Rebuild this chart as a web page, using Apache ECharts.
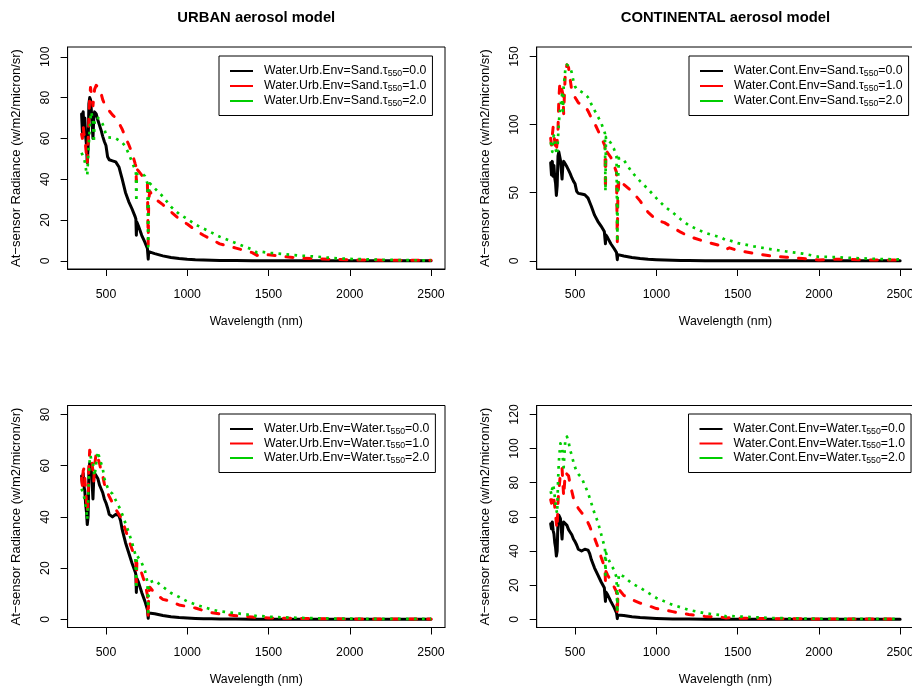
<!DOCTYPE html>
<html><head><meta charset="utf-8">
<script src="https://cdn.jsdelivr.net/npm/echarts@6/dist/echarts.min.js"></script>
<style>html,body{margin:0;padding:0;background:#fff}#c{width:912px;height:686px}</style>
</head><body><div id="c"></div><script>
// ---------- data ----------
const wavelengthNm = [350,355,360,365,370,375,380,385,390,395,
 400,405,410,420,425,430,440,450,460,470,
 480,490,500,510,520,540,560,580,590,600,
 620,640,660,680,684,687,690,700,720,740,
 755,760,763,770,800,850,900,950,1000,1050,
 1100,1150,1200,1300,1400,1430,1450,1500,1600,1700,
 1800,1900,2000,2100,2200,2300,2400,2500];

// tau550 = 0.0, environment Sand (identical for URBAN and CONTINENTAL)
const envSandTau0 = [72,63,73,62,70,61,57,48,55,77,
 80,79,74,60,70,73,72,69,66.5,64,
 61,58.5,56.5,51,49.5,49,48.5,46,43,40,
 33.5,29,25.5,21.5,20.5,12.5,19,17,12.5,9,
 6,0.8,4.5,4.6,3.5,2.4,1.6,1.1,0.75,0.5,
 0.35,0.25,0.18,0.1,0.06,0.02,0.04,0.05,0.04,0.04,
 0.03,0.02,0.02,0.02,0.02,0.02,0.02,0.01];
const urbSandTau1 = [62,60,66,62,60,56,52,48,58,70,
 80,85,85,76,80,84,86,86,84.5,82,
 79,77,76,74.5,73.5,71.5,70,67.5,66,64.5,
 60.5,57,53,47.5,46.5,39,45,44,42,40,
 38.5,8,30,34,30.5,27.5,24,20.5,18,15,
 12.5,10.5,8.3,6.2,4,2.6,3.3,2.9,2.0,1.3,
 1.0,0.7,0.4,0.35,0.3,0.25,0.2,0.2];
const urbSandTau2 = [53,52,51.5,50,48.5,46,43,42,50,58,
 65,70,73,68,58,68,70.5,70,69.5,68,
 67,64.5,62,60.5,60,60.3,60,59,58.8,58,
 56,52.5,48.5,44.5,43.5,29,42.5,43,43,41.5,
 38,7,33,38,35.5,31.5,26.5,23,20.5,17.8,
 15.8,13.8,11.8,8.6,5.5,4.0,4.5,3.9,3.2,2.5,
 2.0,1.3,0.9,0.7,0.5,0.35,0.25,0.2];
const contSandTau1 = [90,85,92,98,92,88,84,80,79,96,
 118,128,131,125,122,108,138,144,142,133,
 125,122,120,118,116,115,114,110,107.5,105,
 101,96,91,85.5,84,52,81,80,76,70,
 65,14,45,60,56,51,44,35.5,30,28,
 24.5,21,18,14,11,8.5,9.5,7.6,5.4,3.6,
 2.6,1.7,0.5,1.2,0.9,0.6,0.5,0.5];
const contSandTau2 = [87,84,80,90,92,86,82,80,78,90,
 101,108,114,122,110,128,140,144,143.5,142,
 138,132,128,126,125,124,122.5,120,118,115,
 110.5,106,101.5,95,93.5,51,91,89.5,86.5,82,
 77,14,55,75.5,74,65,58.5,52.5,46,40,
 35.5,30.5,26,20.5,17,15,15,13,10.6,8.6,
 6.8,5.3,2.9,2.7,2.1,1.6,1.2,1.0];

// tau550 = 0.0, environment Water (identical for URBAN and CONTINENTAL)
const envWaterTau0 = [56,53,57,52,50,45,42,37,40,58,
 61,60.5,59,47,55,57,56,55,52.5,51,
 49.5,47,45.5,43.5,41,40,41,40.5,38.5,35,
 30,26,22,18.5,17.5,10.5,16,14.5,10.5,7,
 3.8,0.4,2.5,2.7,2.2,1.5,1.0,0.7,0.5,0.35,
 0.25,0.18,0.12,0.08,0.05,0.02,0.04,0.04,0.03,0.03,
 0.03,0.02,0.02,0.02,0.02,0.02,0.02,0.01];
const urbWaterTau1 = [55,52,58,59,55,50,46,42,47,60,
 66,66,63,58,54,60,65,65,61,58,
 56,53,51,49.5,48,45.5,43,41,40,38.5,
 35,31,27.5,23.5,22.5,14,22,21,18,14,
 9.5,0.8,9,12.5,10.2,7.8,7,5.6,5,4.4,
 3.4,2.6,2.1,1.4,0.9,0.6,0.75,0.55,0.4,0.3,
 0.25,0.2,0.15,0.15,0.15,0.15,0.15,0.15];
const urbWaterTau2 = [51,50,50,48,46,44,42,39,45,55,
 62,64,62,60.5,58,56,61,65.5,63,61,
 59,55,53,51.5,50.2,49,46.5,44,42.5,41,
 37.5,34,30,25.5,25,12,25,24.5,22,19,
 14.5,1.4,12,14.5,15.2,12.7,10.3,8.7,7,5.8,
 4.8,3.8,3.1,2.4,1.6,1.2,1.3,1.0,0.75,0.55,
 0.4,0.3,0.25,0.2,0.2,0.2,0.2,0.2];
const contWaterTau1 = [70,68,73,72,70,66,62,56,53,68,
 76,80,86,88.5,80,72,86,87,84,79,
 75,71,68.5,66.5,65,62.5,60,56.5,54.5,52,
 47.5,42.5,36.5,31,29.5,22,28,26,22.5,19,
 16,3,12,17.5,14,11.5,9.5,8,6.3,5.5,
 4.5,3.6,2.8,1.7,1.2,0.8,0.95,0.7,0.5,0.4,
 0.3,0.25,0.2,0.2,0.2,0.2,0.2,0.2];
const contWaterTau2 = [75,73,77,79,76,72,68,64,62,80,
 92,98,103,100,94,89,105,107,104,99,
 96,92,89,86.5,85,83,78.5,74,71,68,
 62,57,50,43,41.5,26,39,36.5,32,29,
 24.5,4,18,26.5,25,21,18.5,15.5,12.5,10.5,
 8.5,7,5.5,3.5,2.4,1.7,2.0,1.7,1.2,0.8,
 0.6,0.45,0.35,0.3,0.25,0.2,0.2,0.2];

const xTickValues = [500,1000,1500,2000,2500];
const yTicksUrbSand = [0,20,40,60,80,100];
const yTicksContSand = [0,50,100,150];
const yTicksUrbWater = [0,20,40,60,80];
const yTicksContWater = [0,20,40,60,80,100,120];

const namesUrbSand = ['Water.Urb.Env=Sand.τ550=0.0','Water.Urb.Env=Sand.τ550=1.0','Water.Urb.Env=Sand.τ550=2.0'];
const namesContSand = ['Water.Cont.Env=Sand.τ550=0.0','Water.Cont.Env=Sand.τ550=1.0','Water.Cont.Env=Sand.τ550=2.0'];
const namesUrbWater = ['Water.Urb.Env=Water.τ550=0.0','Water.Urb.Env=Water.τ550=1.0','Water.Urb.Env=Water.τ550=2.0'];
const namesContWater = ['Water.Cont.Env=Water.τ550=0.0','Water.Cont.Env=Water.τ550=1.0','Water.Cont.Env=Water.τ550=2.0'];

// ---------- styling / layout ----------
const FONT = '"Liberation Sans", Arial, Helvetica, sans-serif';
const STY = [
  {color:'#000000', width:3, type:'solid', cap:'round'},
  {color:'#FF0000', width:3, type:[7,11], cap:'round'},
  {color:'#00CD00', width:2.7, type:[2.7,5.3], cap:'butt'}
];
const PW = 377.4, PH = 222;
const panels = [
  {left:67.6, top:47, yMin:-4.04, yMax:104.8, yTicks:yTicksUrbSand, names:namesUrbSand,
   vals:[envSandTau0, urbSandTau1, urbSandTau2], legend:{left:219, top:56, gap:1}},
  {left:536.7, top:47, yMin:-6.04, yMax:157, yTicks:yTicksContSand, names:namesContSand,
   vals:[envSandTau0, contSandTau1, contSandTau2], legend:{left:689, top:56, gap:1}},
  {left:67.6, top:405.5, yMin:-3.2, yMax:83.5, yTicks:yTicksUrbWater, names:namesUrbWater,
   vals:[envWaterTau0, urbWaterTau1, urbWaterTau2], legend:{left:219, top:414, gap:0.5}},
  {left:536.7, top:405.5, yMin:-4.8, yMax:125.2, yTicks:yTicksContWater, names:namesContWater,
   vals:[envWaterTau0, contWaterTau1, contWaterTau2], legend:{left:688.5, top:414, gap:0.5}}
];

const axisText = {color:'#000', fontSize:12.3, fontFamily:FONT};
const grids = [], xAxes = [], yAxes = [], legends = [], series = [];
panels.forEach((p, gi) => {
  grids.push({left:p.left, top:p.top, width:PW, height:PH, show:true, borderColor:'#000', borderWidth:1,
    backgroundColor:'transparent', containLabel:false, outerBoundsMode:'none'});
  xAxes.push({type:'value', gridIndex:gi, min:264, max:2586,
    axisLine:{show:true, onZero:false, lineStyle:{color:'#000', width:1}},
    axisTick:{show:true, inside:false, length:7, customValues:xTickValues, lineStyle:{color:'#000', width:1}},
    axisLabel:Object.assign({show:true, margin:19.5, customValues:xTickValues, formatter: v => String(v)}, axisText),
    splitLine:{show:false},
    name:'Wavelength (nm)', nameLocation:'middle', nameGap:46.5, nameTextStyle:axisText});
  yAxes.push({type:'value', gridIndex:gi, min:p.yMin, max:p.yMax,
    axisLine:{show:true, onZero:false, lineStyle:{color:'#000', width:1}},
    axisTick:{show:true, inside:false, length:7, customValues:p.yTicks, lineStyle:{color:'#000', width:1}},
    axisLabel:Object.assign({show:true, margin:16, rotate:90, customValues:p.yTicks, formatter: v => String(v)}, axisText),
    splitLine:{show:false},
    name:'At\u2212sensor Radiance (w/m2/micron/sr)', nameLocation:'middle', nameGap:44.5,
    nameTextStyle:{color:'#000', fontSize:13, fontFamily:FONT}});
  legends.push({orient:'vertical', left:p.legend.left, top:p.legend.top, data:p.names,
    icon:'rect', itemWidth:23, itemHeight:2, itemGap:p.legend.gap,
    padding:[8,6,7.5,11], borderColor:'#000', borderWidth:1, borderRadius:0, backgroundColor:'#fff',
    selectedMode:false,
    formatter: n => n.replace('τ550', 'τ{s|550}'),
    textStyle:{color:'#000', fontSize:12.3, fontFamily:FONT, lineHeight:14, padding:[0,0,0,6],
      rich:{s:{fontSize:8.7, lineHeight:9, verticalAlign:'bottom', fontFamily:FONT, color:'#000'}}}});
  p.vals.forEach((v, k) => {
    const st = STY[k];
    series.push({type:'line', name:p.names[k], xAxisIndex:gi, yAxisIndex:gi,
      data: wavelengthNm.map((w, i) => [w, v[i]]),
      symbol:'none', showSymbol:false, color:st.color, animation:false, silent:true, clip:true,
      lineStyle:{color:st.color, width:st.width, type:st.type, cap:st.cap, join:'round'},
      itemStyle:{color:st.color}, z:2 + k});
  });
});

const chart = echarts.init(document.getElementById('c'), null, {renderer:'canvas'});
chart.setOption({
  backgroundColor:'#fff',
  animation:false,
  title:[
    {text:'URBAN aerosol model', left:256.3, top:10.5, textAlign:'center', padding:0,
     textStyle:{fontSize:14.8, fontWeight:'bold', fontFamily:FONT, color:'#000'}},
    {text:'CONTINENTAL aerosol model', left:725.4, top:10.5, textAlign:'center', padding:0,
     textStyle:{fontSize:14.8, fontWeight:'bold', fontFamily:FONT, color:'#000'}}
  ],
  grid:grids, xAxis:xAxes, yAxis:yAxes, legend:legends, series:series
});
</script></body></html>
